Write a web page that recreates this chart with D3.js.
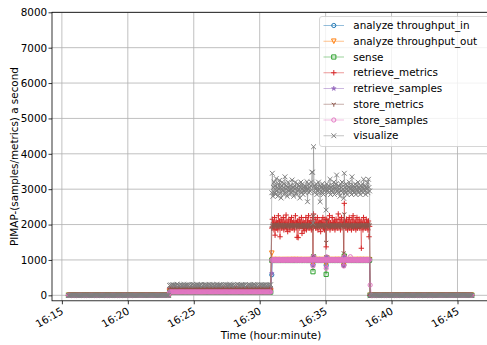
<!DOCTYPE html>
<html>
<head>
<meta charset="utf-8">
<script src="https://cdn.jsdelivr.net/npm/d3@7"></script>
<style>
  html, body { margin: 0; padding: 0; background: #ffffff; }
  svg { display: block; font-family: "DejaVu Sans", "Liberation Sans", sans-serif; }
</style>
</head>
<body>
<svg id="chart" width="487" height="345"></svg>
<script>
// ---------------------------------------------------------------------------
// PIMAP throughput log: four recording periods, each sampled at a fixed step
// ---------------------------------------------------------------------------
const segmentStart = ["16:15:30", "16:23:10", "16:30:55", "16:38:30"];
const segmentStepSec = [5, 5, 2.5, 5];

const seriesNames = [
  "analyze throughput_in", "analyze throughput_out", "sense",
  "retrieve_metrics", "retrieve_samples", "store_metrics",
  "store_samples", "visualize"
];

// idle periods (first and last segment): nothing flows through the pipeline
const idle = [
  0, 0, 0, 0, 0, 0, 0, 0, 0, 0,
  0, 0, 0, 0, 0, 0, 0, 0, 0, 0,
  0, 0, 0, 0, 0, 0, 0, 0, 0, 0,
  0, 0, 0, 0, 0, 0, 0, 0, 0, 0,
  0, 0, 0, 0, 0, 0, 0, 0, 0, 0,
  0, 0, 0, 0, 0, 0, 0, 0, 0, 0,
  0, 0, 0, 0, 0, 0, 0, 0, 0, 0,
  0, 0, 0, 0, 0, 0, 0, 0, 0, 0,
  0, 0, 0, 0, 0, 0, 0, 0, 0, 0,
  0, 0
];

// light load (16:23 - 16:31)
const analyzeInLight = [
  95, 96, 94, 95, 97, 95, 94, 96, 95, 95,
  96, 94, 95, 97, 95, 94, 96, 95, 95, 94,
  96, 95, 97, 95, 94, 95, 96, 95, 94, 96,
  95, 95, 97, 94, 95, 96, 95, 94, 95, 96,
  95, 96, 94, 95, 97, 95, 94, 96, 95, 95,
  96, 94, 95, 97, 95, 94, 96, 95, 95, 94,
  96, 95, 97, 95, 94, 95, 96, 95, 94, 96,
  95, 95, 97, 94, 95, 96, 95, 94, 95, 96,
  95, 96, 94, 95, 97, 95, 94, 96, 95, 95,
  95, 97, 94
];
const analyzeOutLight = [
  96, 95, 97, 95, 94, 95, 96, 95, 94, 96,
  95, 95, 97, 94, 95, 96, 95, 94, 95, 96,
  95, 96, 94, 95, 97, 95, 94, 96, 95, 95,
  96, 94, 95, 97, 95, 94, 96, 95, 95, 94,
  96, 95, 97, 95, 94, 95, 96, 95, 94, 96,
  95, 95, 97, 94, 95, 96, 95, 94, 95, 96,
  95, 96, 94, 95, 97, 95, 94, 96, 95, 95,
  96, 94, 95, 97, 95, 94, 96, 95, 95, 94,
  96, 95, 97, 95, 94, 95, 96, 95, 94, 96,
  96, 95, 97
];
const senseLight = [
  92, 93, 91, 92, 94, 92, 93, 91, 92, 93,
  94, 92, 91, 93, 92, 92, 94, 91, 93, 92,
  92, 93, 91, 92, 94, 92, 93, 91, 92, 93,
  94, 92, 91, 93, 92, 92, 94, 91, 93, 92,
  92, 93, 91, 92, 94, 92, 93, 91, 92, 93,
  94, 92, 91, 93, 92, 92, 94, 91, 93, 92,
  92, 93, 91, 92, 94, 92, 93, 91, 92, 93,
  94, 92, 91, 93, 92, 92, 94, 91, 93, 92,
  92, 93, 91, 92, 94, 92, 93, 91, 92, 93,
  92, 93, 91
];
const retrieveMetricsLight = [
  185, 195, 190, 200, 180, 195, 190, 185, 200, 190,
  195, 185, 190, 205, 180, 190, 195, 185, 190, 200,
  185, 195, 190, 180, 200, 190, 185, 195, 190, 185,
  200, 190, 195, 180, 190, 195, 185, 200, 190, 185,
  195, 190, 180, 195, 190, 200, 190, 185, 205, 190,
  180, 195, 190, 185, 200, 190, 195, 180, 190, 200,
  185, 190, 195, 200, 185, 180, 195, 190, 205, 185,
  190, 200, 185, 195, 190, 180, 200, 190, 185, 195,
  190, 185, 200, 190, 195, 180, 190, 200, 185, 190,
  195, 190, 185
];
const retrieveSamplesLight = [
  96, 94, 95, 97, 95, 94, 96, 95, 95, 94,
  95, 96, 94, 95, 97, 95, 94, 96, 95, 95,
  95, 95, 97, 94, 95, 96, 95, 94, 95, 96,
  96, 95, 97, 95, 94, 95, 96, 95, 94, 96,
  96, 94, 95, 97, 95, 94, 96, 95, 95, 94,
  95, 96, 94, 95, 97, 95, 94, 96, 95, 95,
  95, 95, 97, 94, 95, 96, 95, 94, 95, 96,
  96, 95, 97, 95, 94, 95, 96, 95, 94, 96,
  96, 94, 95, 97, 95, 94, 96, 95, 95, 94,
  96, 95, 94
];
const storeMetricsLight = [
  190, 192, 188, 190, 191, 189, 190, 193, 188, 190,
  191, 190, 189, 192, 190, 188, 191, 190, 189, 190,
  192, 190, 188, 191, 190, 189, 190, 192, 190, 188,
  191, 190, 189, 190, 192, 190, 188, 191, 190, 190,
  189, 192, 190, 188, 191, 190, 190, 189, 192, 190,
  188, 191, 190, 189, 190, 192, 190, 188, 191, 190,
  190, 189, 192, 190, 188, 191, 190, 190, 189, 192,
  190, 188, 191, 190, 189, 190, 192, 190, 188, 191,
  190, 190, 189, 192, 190, 188, 191, 190, 189, 190,
  192, 190, 188
];
const storeSamplesLight = [
  95, 95, 97, 94, 95, 96, 95, 94, 95, 96,
  96, 95, 97, 95, 94, 95, 96, 95, 94, 96,
  96, 94, 95, 97, 95, 94, 96, 95, 95, 94,
  95, 96, 94, 95, 97, 95, 94, 96, 95, 95,
  95, 95, 97, 94, 95, 96, 95, 94, 95, 96,
  96, 95, 97, 95, 94, 95, 96, 95, 94, 96,
  96, 94, 95, 97, 95, 94, 96, 95, 95, 94,
  95, 96, 94, 95, 97, 95, 94, 96, 95, 95,
  95, 95, 97, 94, 95, 96, 95, 94, 95, 96,
  95, 96, 94
];
const visualizeLight = [
  280, 295, 285, 300, 290, 275, 295, 310, 285, 280,
  300, 290, 285, 305, 280, 290, 295, 285, 300, 275,
  290, 310, 285, 295, 280, 300, 290, 285, 295, 305,
  280, 290, 300, 285, 295, 280, 310, 290, 285, 300,
  295, 280, 290, 305, 285, 295, 290, 300, 280, 295,
  285, 300, 290, 275, 295, 305, 285, 290, 300, 280,
  295, 285, 310, 290, 280, 300, 295, 285, 290, 305,
  280, 295, 290, 300, 285, 275, 295, 310, 290, 285,
  300, 280, 295, 290, 305, 285, 290, 300, 280, 295,
  290, 285, 300
];

// heavy load (16:31 - 16:38)
const analyzeInBusy = [
  580, 995, 1005, 990, 1000, 1010, 995, 1000, 1005, 990,
  1005, 1000, 990, 1010, 995, 1000, 1005, 995, 1000, 1010,
  990, 1005, 1000, 995, 1010, 1000, 990, 1005, 995, 1000,
  1010, 995, 1000, 1005, 990, 1000, 995, 1010, 1000, 995,
  1000, 995, 1005, 990, 1000, 1010, 995, 1000, 1005, 990,
  1005, 1000, 990, 1010, 995, 1000, 1005, 995, 1000, 1010,
  990, 1005, 1000, 995, 1010, 1000, 990, 1005, 995, 1000,
  1010, 995, 1000, 1005, 990, 870, 1080, 1010, 1000, 995,
  1000, 995, 1005, 990, 1000, 1010, 995, 1000, 1005, 990,
  1005, 1000, 990, 1010, 995, 1000, 1005, 995, 1000, 855,
  1070, 1005, 1000, 995, 1010, 1000, 990, 1005, 995, 1000,
  1010, 995, 1000, 1005, 990, 1000, 995, 1010, 1000, 995,
  1000, 995, 1005, 990, 1000, 1010, 995, 1000, 1005, 990,
  1005, 850, 1090, 1010, 995, 1000, 1005, 995, 1000, 1010,
  990, 1005, 1000, 995, 1010, 1000, 990, 1005, 995, 1000,
  1010, 995, 1000, 1005, 990, 1000, 995, 1010, 1000, 995,
  1000, 995, 1005, 990, 1000, 1010, 995, 1000, 1005, 990,
  1005, 1000, 990, 1010, 995, 1000, 1005, 995, 1000, 0
];
const analyzeOutBusy = [
  1190, 1005, 1000, 995, 1010, 1000, 990, 1005, 995, 1000,
  1010, 995, 1000, 1005, 990, 1000, 995, 1010, 1000, 995,
  1000, 995, 1005, 990, 1000, 1010, 995, 1000, 1005, 990,
  1005, 1000, 990, 1010, 995, 1000, 1005, 995, 1000, 1010,
  990, 1005, 1000, 995, 1010, 1000, 990, 1005, 995, 1000,
  1010, 995, 1000, 1005, 990, 1000, 995, 1010, 1000, 995,
  1000, 995, 1005, 990, 1000, 1010, 995, 1000, 1005, 990,
  1005, 1000, 990, 1010, 995, 880, 1070, 995, 1000, 1010,
  990, 1005, 1000, 995, 1010, 1000, 990, 1005, 995, 1000,
  1010, 995, 1000, 1005, 990, 1000, 995, 1010, 1000, 870,
  1060, 995, 1005, 990, 1000, 1010, 995, 1000, 1005, 990,
  1005, 1000, 990, 1010, 995, 1000, 1005, 995, 1000, 1010,
  990, 1005, 1000, 995, 1010, 1000, 990, 1005, 995, 1000,
  1010, 860, 1080, 1005, 990, 1000, 995, 1010, 1000, 995,
  1000, 995, 1005, 990, 1000, 1010, 995, 1000, 1005, 990,
  1005, 1000, 990, 1010, 995, 1000, 1005, 995, 1000, 1010,
  990, 1005, 1000, 995, 1010, 1000, 990, 1005, 995, 1000,
  1010, 995, 1000, 1005, 990, 1000, 995, 1010, 1000, 0
];
const senseBusy = [
  990, 995, 985, 990, 1000, 990, 985, 995, 990, 1000,
  985, 990, 995, 990, 985, 1000, 990, 995, 985, 990,
  995, 990, 1000, 985, 990, 995, 990, 985, 1000, 990,
  990, 995, 985, 990, 1000, 990, 985, 995, 990, 1000,
  985, 990, 995, 990, 985, 1000, 990, 995, 985, 990,
  995, 990, 1000, 985, 990, 995, 990, 985, 1000, 990,
  990, 995, 985, 990, 1000, 990, 985, 995, 990, 1000,
  985, 990, 995, 990, 985, 667, 1090, 995, 985, 990,
  995, 990, 1000, 985, 990, 995, 990, 985, 1000, 990,
  990, 995, 985, 990, 1000, 990, 985, 995, 990, 593,
  1060, 990, 995, 990, 985, 1000, 990, 995, 985, 990,
  995, 990, 1000, 985, 990, 995, 990, 985, 1000, 990,
  990, 995, 985, 990, 1000, 990, 985, 995, 990, 1000,
  985, 990, 1110, 990, 985, 1000, 990, 995, 985, 990,
  995, 990, 1000, 985, 990, 995, 990, 985, 1000, 990,
  990, 995, 985, 990, 1000, 990, 985, 995, 990, 1000,
  985, 990, 995, 990, 985, 1000, 990, 995, 985, 990,
  995, 990, 1000, 985, 990, 995, 990, 985, 1000, 0
];
const retrieveMetricsBusy = [
  1900, 2150, 1950, 2050, 1850, 2200, 1700, 2000, 2100, 1900,
  2050, 1850, 2250, 1950, 2100, 1655, 2000, 2150, 1900, 2050,
  1950, 2200, 1850, 2000, 2100, 1950, 2270, 1900, 2050, 1800,
  2000, 2150, 1950, 1850, 2100, 2000, 2200, 1900, 2050, 1950,
  2100, 1850, 2000, 2250, 1950, 2050, 1640, 2100, 1630, 2000,
  2150, 1900, 2050, 1950, 2200, 1750, 2000, 2100, 1900, 1825,
  2050, 1950, 2200, 1850, 2000, 2100, 1950, 2250, 1900, 2050,
  1950, 2100, 1850, 2050, 2200, 1050, 2300, 1950, 2000, 2150,
  1900, 2050, 1950, 2200, 1850, 2000, 2100, 1950, 2050, 1800,
  2100, 1950, 2000, 2200, 1900, 2050, 1850, 2150, 1950, 1370,
  2150, 2000, 1900, 2100, 1950, 2250, 1850, 2050, 2000, 1950,
  2200, 1900, 2050, 1950, 2100, 1850, 2000, 2150, 1950, 2050,
  1900, 2300, 2000, 1950, 2150, 1850, 2050, 2200, 1950, 2000,
  2100, 860, 2600, 1950, 2050, 1900, 2150, 2000, 1850, 2100,
  1950, 2200, 1900, 2050, 2000, 1850, 2150, 1950, 2250, 1900,
  2050, 1950, 2100, 1850, 2000, 2200, 1900, 2050, 1950, 2150,
  1900, 2050, 1950, 1330, 2100, 2000, 1850, 2200, 1950, 2050,
  2000, 1900, 2150, 1950, 2050, 1850, 2100, 1655, 1950, 0
];
const retrieveSamplesBusy = [
  620, 1000, 1005, 995, 1000, 1010, 990, 1000, 1005, 995,
  990, 1005, 1000, 995, 1010, 1000, 990, 1005, 995, 1000,
  1010, 995, 1000, 1005, 990, 1000, 995, 1010, 1000, 995,
  1000, 995, 1005, 990, 1000, 1010, 995, 1000, 1005, 990,
  1005, 1000, 990, 1010, 995, 1000, 1005, 995, 1000, 1010,
  990, 1005, 1000, 995, 1010, 1000, 990, 1005, 995, 1000,
  1010, 995, 1000, 1005, 990, 1000, 995, 1010, 1000, 995,
  1000, 995, 1005, 990, 1000, 850, 1100, 1000, 1005, 990,
  1005, 1000, 990, 1010, 995, 1000, 1005, 995, 1000, 1010,
  990, 1005, 1000, 995, 1010, 1000, 990, 1005, 995, 800,
  1080, 995, 1000, 1005, 990, 1000, 995, 1010, 1000, 995,
  1000, 995, 1005, 990, 1000, 1010, 995, 1000, 1005, 990,
  1005, 1000, 990, 1010, 995, 1000, 1005, 995, 1000, 1010,
  990, 840, 1090, 995, 1010, 1000, 990, 1005, 995, 1000,
  1010, 995, 1000, 1005, 990, 1000, 995, 1010, 1000, 995,
  1000, 995, 1005, 990, 1000, 1010, 995, 1000, 1005, 990,
  1005, 1000, 990, 1010, 995, 1000, 1005, 995, 1000, 1010,
  990, 1005, 1000, 995, 1010, 1000, 990, 1005, 995, 0
];
const storeMetricsBusy = [
  1900, 1980, 1950, 2010, 1960, 1990, 1940, 2000, 1970, 1950,
  2020, 1960, 1980, 1940, 2000, 1970, 1990, 1950, 2010, 1960,
  1980, 1940, 2000, 1970, 1950, 1990, 2010, 1960, 1980, 1950,
  1970, 2000, 1940, 1990, 1960, 2010, 1980, 1950, 1990, 1970,
  1960, 1990, 1950, 2000, 1970, 1940, 1990, 1960, 2010, 1950,
  1980, 1960, 2000, 1950, 1990, 1970, 1940, 2010, 1960, 1980,
  1950, 2000, 1970, 1960, 1990, 1940, 2010, 1970, 1950, 1990,
  1960, 1980, 2000, 1950, 1970, 1050, 2250, 1990, 1960, 1980,
  1950, 2010, 1970, 1940, 1990, 1960, 2000, 1950, 1980, 1970,
  2000, 1960, 1990, 1950, 2010, 1970, 1940, 1990, 1960, 1500,
  2100, 1970, 1990, 1950, 2000, 1960, 1980, 1940, 2010, 1970,
  1960, 1990, 1950, 2000, 1970, 1940, 1990, 1960, 2010, 1950,
  1980, 1960, 2000, 1950, 1990, 1970, 1940, 2010, 1960, 1980,
  1950, 1200, 2300, 1960, 1990, 1950, 2010, 1970, 1940, 2000,
  1960, 1990, 1950, 1980, 2000, 1960, 1970, 1940, 2010, 1950,
  1990, 1960, 1980, 2000, 1950, 1970, 1990, 1940, 2010, 1960,
  1980, 1950, 2000, 1970, 1960, 1990, 1950, 2010, 1970, 1940,
  1990, 1960, 2000, 1950, 1980, 1970, 2010, 1960, 1990, 0
];
const storeSamplesBusy = [
  990, 1000, 1005, 995, 1000, 1010, 995, 1000, 990, 1005,
  1000, 995, 1005, 990, 1000, 1010, 995, 1000, 1005, 990,
  1005, 1000, 990, 1010, 995, 1000, 1005, 995, 1000, 1010,
  990, 1005, 1000, 995, 1010, 1000, 990, 1005, 995, 1000,
  1010, 995, 1000, 1005, 990, 1000, 995, 1010, 1000, 995,
  1000, 995, 1005, 990, 1000, 1010, 995, 1000, 1005, 990,
  1005, 1000, 990, 1010, 995, 1000, 1005, 995, 1000, 1010,
  990, 1005, 1000, 995, 1010, 828, 1095, 1005, 995, 1000,
  1010, 995, 1000, 1005, 990, 1000, 995, 1010, 1000, 995,
  1000, 995, 1005, 990, 1000, 1010, 995, 1000, 1005, 763,
  1085, 1000, 990, 1010, 995, 1000, 1005, 995, 1000, 1010,
  990, 1005, 1000, 995, 1010, 1000, 990, 1005, 995, 1000,
  1010, 995, 1000, 1005, 990, 1000, 995, 1010, 1000, 995,
  1000, 828, 1090, 990, 1000, 1010, 995, 1000, 1005, 990,
  1005, 1000, 990, 1090, 995, 1000, 1005, 995, 1000, 1010,
  990, 1005, 1000, 995, 1010, 1000, 990, 1005, 995, 1000,
  1010, 995, 1000, 1005, 990, 1000, 995, 1010, 1000, 995,
  1000, 995, 1005, 990, 1000, 1010, 995, 1000, 1005, 290
];
const visualizeBusy = [
  2900, 3450, 2800, 3050, 3200, 2900, 3100, 2850, 3300, 2950,
  3050, 2800, 3150, 3000, 3250, 2900, 3050, 2750, 3100, 3200,
  2950, 3050, 2850, 3150, 3350, 2900, 3000, 3100, 2800, 3050,
  3200, 2950, 3000, 2850, 3100, 3000, 2900, 3260, 2950, 3050,
  2800, 3100, 3000, 3200, 2900, 3050, 2850, 3150, 2950, 3000,
  3100, 2750, 3050, 3200, 2900, 3000, 3150, 2850, 3050, 2950,
  3100, 2900, 3050, 3000, 3210, 2645, 3000, 3150, 2900, 3050,
  2950, 3100, 3200, 3480, 3480, 2040, 4200, 3100, 2900, 3050,
  3000, 3150, 2850, 3050, 2950, 3200, 3000, 2900, 2645, 3100,
  3050, 2900, 3150, 3000, 2850, 3100, 2950, 3050, 3000, 2410,
  3150, 2950, 3050, 2900, 3100, 3000, 3280, 2850, 3050, 2950,
  3100, 2900, 3000, 3200, 2850, 3050, 3000, 3150, 3400, 2950,
  3050, 2900, 3100, 3000, 2800, 3150, 2950, 3050, 3200, 2900,
  3000, 2740, 3450, 3050, 2900, 3150, 3000, 2850, 3100, 2950,
  3050, 3200, 2900, 3000, 3100, 2850, 3350, 3000, 2950, 3100,
  2900, 3050, 3150, 2850, 3000, 3100, 2950, 3200, 2900, 3050,
  3000, 2850, 3100, 2950, 3050, 3150, 2900, 3280, 3000, 2950,
  3100, 2850, 3050, 3000, 3200, 2900, 3280, 3050, 2950, 0
];

const yTicks = [0, 1000, 2000, 3000, 4000, 5000, 6000, 7000, 8000];

// ---------------------------------------------------------------------------
// Styling (matplotlib "tab10" look)
// ---------------------------------------------------------------------------
const seriesColors = ["#1f77b4", "#ff7f0e", "#2ca02c", "#d62728",
                      "#9467bd", "#8c564b", "#e377c2", "#7f7f7f"];
const seriesMarkers = ["circle", "triangleDown", "square", "plus",
                       "star", "triDown", "circle", "cross"];

const seriesParts = [
  [idle, analyzeInLight, analyzeInBusy, idle],
  [idle, analyzeOutLight, analyzeOutBusy, idle],
  [idle, senseLight, senseBusy, idle],
  [idle, retrieveMetricsLight, retrieveMetricsBusy, idle],
  [idle, retrieveSamplesLight, retrieveSamplesBusy, idle],
  [idle, storeMetricsLight, storeMetricsBusy, idle],
  [idle, storeSamplesLight, storeSamplesBusy, idle],
  [idle, visualizeLight, visualizeBusy, idle]
];

const parseClock = d3.utcParse("%H:%M:%S");

const series = seriesNames.map((name, s) => {
  const points = [];
  seriesParts[s].forEach((values, k) => {
    const t0 = parseClock(segmentStart[k]).getTime();
    values.forEach((v, i) => {
      points.push({ t: new Date(t0 + i * segmentStepSec[k] * 1000), v });
    });
  });
  return { name, color: seriesColors[s], marker: seriesMarkers[s], points };
});

// ---------------------------------------------------------------------------
// Layout and scales
// ---------------------------------------------------------------------------
const plot = { left: 52, right: 492, top: 12.3, bottom: 300.8 };

const x = d3.scaleUtc()
  .domain([parseClock("16:14:15"), parseClock("16:47:37")])
  .range([plot.left, plot.right]);

const y = d3.scaleLinear()
  .domain([-155, 8000])
  .range([plot.bottom, plot.top]);

const svg = d3.select("#chart");

svg.append("defs").append("clipPath").attr("id", "plot-clip")
  .append("rect")
  .attr("x", plot.left).attr("y", plot.top)
  .attr("width", plot.right - plot.left)
  .attr("height", plot.bottom - plot.top);

// grid
const xTickValues = x.ticks(d3.utcMinute.every(5));
const grid = svg.append("g").attr("stroke", "#b0b0b0").attr("stroke-width", 0.8);
grid.selectAll("line.gx").data(xTickValues).join("line")
  .attr("class", "gx")
  .attr("x1", d => x(d)).attr("x2", d => x(d))
  .attr("y1", plot.top).attr("y2", plot.bottom);
grid.selectAll("line.gy").data(yTicks).join("line")
  .attr("class", "gy")
  .attr("x1", plot.left).attr("x2", plot.right)
  .attr("y1", d => y(d)).attr("y2", d => y(d));

// marker shapes, centred on (0,0)
function markerPath(type, size) {
  const h = size / 2;
  switch (type) {
    case "circle":
      return `M${h},0A${h},${h} 0 1,1 ${-h},0A${h},${h} 0 1,1 ${h},0Z`;
    case "triangleDown":
      return `M${-h},${-h}L${h},${-h}L0,${h}Z`;
    case "square":
      return `M${-h},${-h}H${h}V${h}H${-h}Z`;
    case "plus":
      return `M${-h},0H${h}M0,${-h}V${h}`;
    case "star":
      return d3.symbol(d3.symbolStar).size(size * size * 0.3)();
    case "triDown":
      return `M0,0V${h}M0,0L${-h * 0.87},${-h * 0.5}M0,0L${h * 0.87},${-h * 0.5}`;
    case "cross":
      return `M${-h},${-h}L${h},${h}M${-h},${h}L${h},${-h}`;
  }
}
const markerSize = { circle: 4.2, triangleDown: 4.6, square: 4.2, plus: 5.4,
                     star: 4.8, triDown: 5, cross: 4.8 };
const filledMarker = { star: true };

function styleMarker(sel, d) {
  const filled = filledMarker[d.marker];
  sel.attr("d", markerPath(d.marker, markerSize[d.marker]))
    .attr("fill", filled ? d.color : "none")
    .attr("stroke", d.color)
    .attr("stroke-width", filled ? 0.5 : 1);
}

// data
const dataLayer = svg.append("g").attr("clip-path", "url(#plot-clip)");
const line = d3.line().x(p => x(p.t)).y(p => y(p.v));

series.forEach(d => {
  const g = dataLayer.append("g");
  g.append("path")
    .attr("d", line(d.points))
    .attr("fill", "none")
    .attr("stroke", d.color)
    .attr("stroke-opacity", 0.6)
    .attr("stroke-width", 0.8);
  g.selectAll("path.m").data(d.points).join("path")
    .attr("class", "m")
    .attr("transform", p => `translate(${x(p.t)},${y(p.v)})`)
    .call(sel => styleMarker(sel, d));
});

// axes
const fontSize = 10.4;
const xAxis = d3.axisBottom(x)
  .tickValues(xTickValues)
  .tickFormat(d3.utcFormat("%H:%M"))
  .tickSize(3.5);
const gx = svg.append("g").attr("transform", `translate(0,${plot.bottom})`).call(xAxis);
gx.select(".domain").remove();
gx.selectAll(".tick line").attr("stroke", "#000").attr("stroke-width", 0.8);
gx.selectAll(".tick text")
  .attr("x", 0).attr("y", 0).attr("dy", "0.75em")
  .attr("text-anchor", "end")
  .attr("transform", "translate(-2,5.5) rotate(-30)")
  .attr("font-size", fontSize)
  .attr("font-family", "DejaVu Sans")
  .attr("fill", "#000");

const yAxis = d3.axisLeft(y).tickValues(yTicks).tickFormat(d3.format("d")).tickSize(3.5).tickPadding(1.4);
const gy = svg.append("g").attr("transform", `translate(${plot.left},0)`).call(yAxis);
gy.select(".domain").remove();
gy.selectAll(".tick line").attr("stroke", "#000").attr("stroke-width", 0.8);
gy.selectAll(".tick text")
  .attr("font-size", fontSize)
  .attr("font-family", "DejaVu Sans")
  .attr("fill", "#000");

// spines
const spines = svg.append("g").attr("stroke", "#000").attr("stroke-width", 0.8).attr("fill", "none");
spines.append("rect")
  .attr("x", plot.left).attr("y", plot.top)
  .attr("width", plot.right - plot.left)
  .attr("height", plot.bottom - plot.top);

// axis titles
svg.append("text")
  .attr("x", 271).attr("y", 338.8)
  .attr("text-anchor", "middle")
  .attr("font-size", fontSize)
  .text("Time (hour:minute)");

svg.append("text")
  .attr("transform", `translate(17.8,${(plot.top + plot.bottom) / 2}) rotate(-90)`)
  .attr("text-anchor", "middle")
  .attr("font-size", fontSize)
  .text("PIMAP-(samples/metrics) a second");

// legend
const legend = svg.append("g");
legend.append("rect")
  .attr("x", 319.5).attr("y", 16.5)
  .attr("width", 200).attr("height", 130)
  .attr("rx", 2.5)
  .attr("fill", "#ffffff").attr("fill-opacity", 0.8)
  .attr("stroke", "#cccccc").attr("stroke-width", 0.8);

const rowY = i => 25.5 + i * 15.75;
series.forEach((d, i) => {
  const row = legend.append("g").attr("transform", `translate(0,${rowY(i)})`);
  row.append("line")
    .attr("x1", 323.5).attr("x2", 344)
    .attr("stroke", d.color).attr("stroke-opacity", 0.6).attr("stroke-width", 0.8);
  row.append("path")
    .attr("transform", "translate(333.8,0)")
    .call(sel => styleMarker(sel, d));
  row.append("text")
    .attr("x", 353.3).attr("y", 0).attr("dy", "0.35em")
    .attr("font-size", fontSize)
    .text(d.name);
});
</script>
</body>
</html>
